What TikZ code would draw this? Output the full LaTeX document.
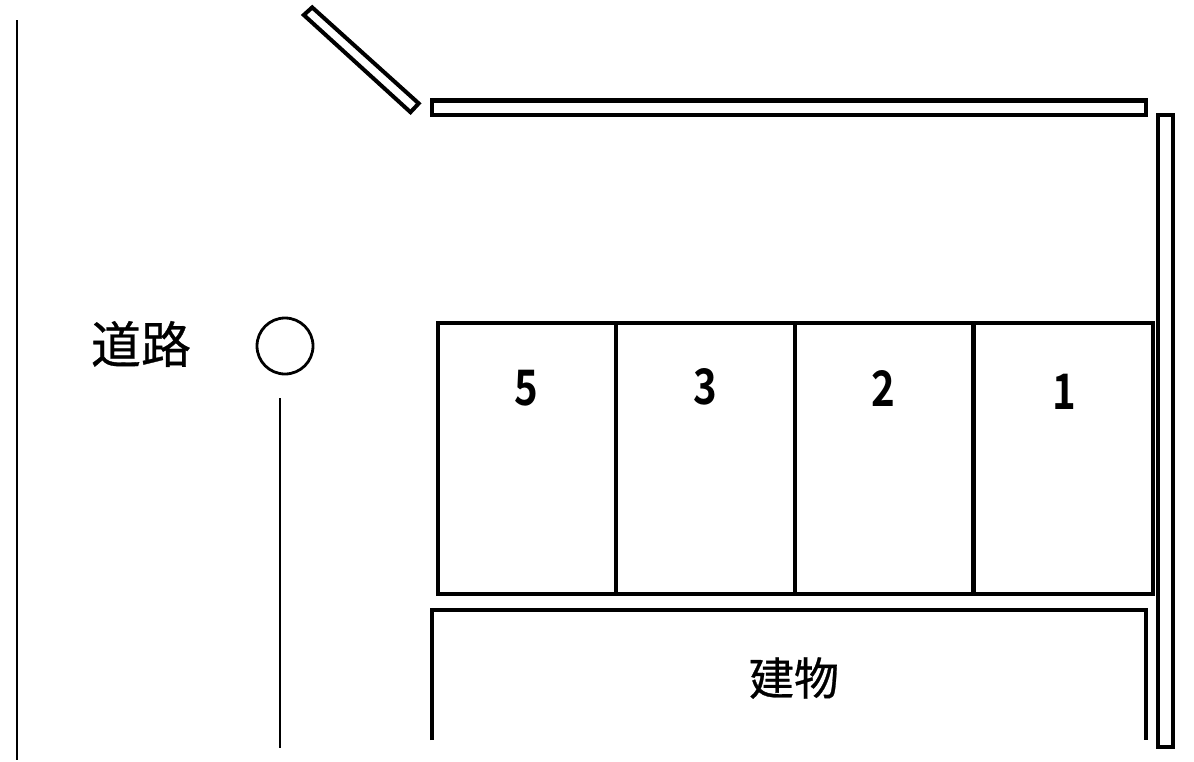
\documentclass[tikz,border=0pt]{standalone}
\usepackage{fontspec}
\newfontfamily\cjk[FakeBold=0.6]{Noto Sans CJK JP}
\newfontfamily\cjknum[BoldFont=*]{Noto Sans CJK JP Bold}
\tikzset{
  wall/.style={draw=black,line width=4.4pt,fill=white,miter limit=10},
  thin line/.style={draw=black,line width=2.8pt},
  lab/.style={inner sep=0pt,text=black,font=\cjk\fontsize{50}{50}\selectfont},
  num/.style={inner sep=0pt,text=black,font=\cjknum\fontsize{49}{49}\selectfont,xscale=0.82},
}
\begin{document}
\begin{tikzpicture}[x=1pt,y=-1pt]
\useasboundingbox (0,0) rectangle (1194,761);
% roads
\coordinate (r1a) at (17,20); \coordinate (r1b) at (17,760);
\draw[thin line] (r1a) -- (r1b);
\coordinate (r2a) at (280,398); \coordinate (r2b) at (280,748);
\draw[thin line] (r2a) -- (r2b);
\node[draw=black,line width=2.8pt,circle,minimum size=56pt,inner sep=0pt] (pole) at (285,346) {};
% walls
\draw[wall,line width=4pt] (312.2,7.4) -- (303.8,15) -- (410.5,112.2) -- (418.7,103.4) -- cycle;
\draw[wall] (432,100.5) rectangle (1146,115);
\draw[wall] (1158,738) |- (1173,115) |- (1158,747) -- cycle;
\draw[draw=white,line width=1.5pt] (1155.3,741) -- (1155.3,750);
% parking cells
\node[wall,fill=none,minimum width=715pt,minimum height=271pt,inner sep=0pt] (cells) at (795.5,458.5) {};
\draw[wall] (616,323) -- (616,594);
\draw[wall] (795,323) -- (795,594);
\draw[wall] (973.5,323) -- (973.5,594);
% building
\draw[wall,fill=none] (432,740) |- (1146,610) -- (1146,740);
% labels
\node[lab] (road) at (141,344) {道路};
\node[lab] (bldg) at (794,678) {\fontsize{45}{45}\selectfont 建物};
\node[num] (n5) at (526,388) {5};
\node[num] (n3) at (705,387) {3};
\node[num] (n2) at (883,388) {2};
\node[num] (n1) at (1064,392) {1};
\end{tikzpicture}
\end{document}
